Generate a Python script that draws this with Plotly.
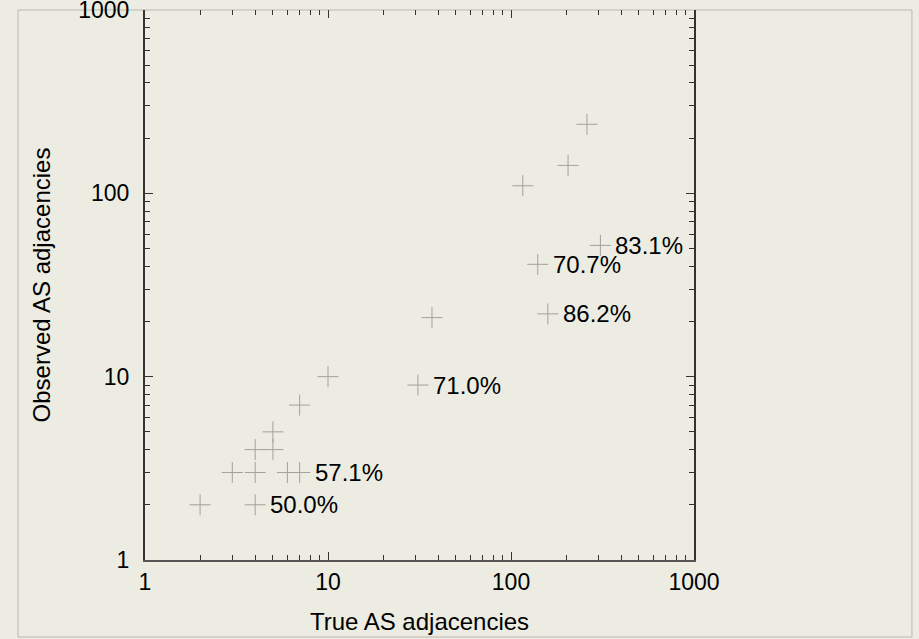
import numpy as np
import plotly.graph_objects as go

# Data (true vs observed AS adjacencies)
true_adj = [2, 4, 3, 4, 6, 7, 4, 5, 5, 7, 10, 31, 37, 116, 140, 159, 205, 260, 308]
obs_adj = [2, 2, 3, 3, 3, 3, 4, 4, 5, 7, 10, 9, 21, 110, 41, 22, 142, 238, 52]

# Labelled points (percentage of missed adjacencies)
label_x = [4, 7, 31, 140, 159, 308]
label_y = [2, 3, 9, 41, 22, 52]
label_text = ["50.0%", "57.1%", "71.0%", "70.7%", "86.2%", "83.1%"]

major_ticks = [1, 10, 100, 1000]
minor_ticks = [m * 10 ** e for e in range(3) for m in range(2, 10)]
tick_text = ["1", "10", "100", "1000"]

BG = "#ECECE2"
FONT = "Liberation Sans, Arial, sans-serif"

fig = go.Figure()
fig.add_trace(go.Scatter(
    x=true_adj, y=obs_adj, mode="markers",
    marker=dict(symbol="cross-thin", size=15, line=dict(color="#a2a29b", width=1)),
    showlegend=False, hoverinfo="skip",
))
# invisible companion trace to anchor the top (mirror) axis
fig.add_trace(go.Scatter(
    x=true_adj, y=obs_adj, mode="markers", xaxis="x2",
    marker=dict(opacity=0), showlegend=False, hoverinfo="skip",
))

for lx, ly, lt in zip(label_x, label_y, label_text):
    fig.add_annotation(
        x=np.log10(lx), y=np.log10(ly), text=lt, showarrow=False,
        xanchor="left", yanchor="middle", xshift=13,
        font=dict(family=FONT, size=24, color="black"),
    )

common = dict(type="log", range=[0, 3], ticks="inside", ticklen=8, tickwidth=1,
              tickcolor="#333", tickvals=major_ticks, ticktext=tick_text,
              showgrid=False, zeroline=False, ticklabeloverflow="allow",
              automargin=False,
              minor=dict(ticks="inside", ticklen=5, tickwidth=1, tickcolor="#333",
                         tickvals=minor_ticks, showgrid=False))

fig.update_layout(
    width=919, height=639,
    margin=dict(l=145, r=225, t=10, b=79, autoexpand=False),
    paper_bgcolor=BG, plot_bgcolor=BG,
    font=dict(family=FONT, size=23, color="black"),
    xaxis=dict(**common, showline=True, linecolor="#555", linewidth=2,
               tickfont=dict(size=23),
               title=dict(text="True AS adjacencies", font=dict(size=24), standoff=20)),
    xaxis2=dict(**common, overlaying="x", side="top", anchor="y", showline=False,
                showticklabels=False),
    yaxis=dict(**common, showline=True, linecolor="#333", linewidth=2, mirror="ticks",
               tickfont=dict(size=23), ticklabelstandoff=9,
               title=dict(text="Observed AS adjacencies", font=dict(size=24), standoff=21)),
    shapes=[dict(type="rect", xref="paper", yref="paper",
                 x0=-0.2313, x1=1.397, y0=-0.14, y1=1.0,
                 line=dict(color="#b8b8ae", width=1), layer="below")],
)

fig.write_html(
    "out.html",
    config={"displayModeBar": False},
    post_script="document.body.style.margin='0';document.body.style.background='%s';"
                "window.dispatchEvent(new Event('resize'));" % BG,
)
